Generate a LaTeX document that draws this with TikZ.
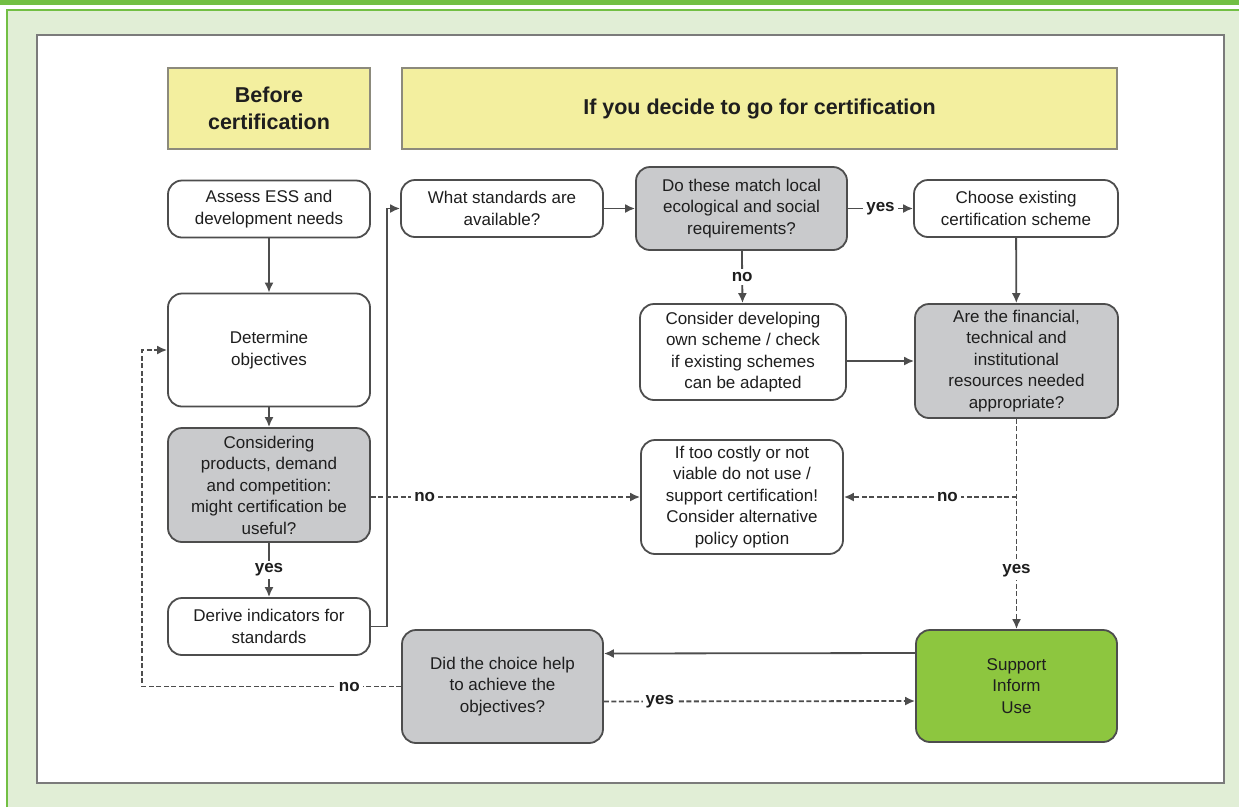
\documentclass[tikz,border=0pt]{standalone}
\usepackage{fontspec}
\setmainfont{Liberation Sans}
\usetikzlibrary{arrows.meta}

\definecolor{topgreen}{HTML}{72BF44}
\definecolor{palegreen}{HTML}{E1EED6}
\definecolor{framegray}{HTML}{7B7B7B}
\definecolor{headyellow}{HTML}{F3EF9F}
\definecolor{headedge}{HTML}{8C8A7C}
\definecolor{querygray}{HTML}{C9CACC}
\definecolor{actgreen}{HTML}{8DC63F}
\definecolor{linecol}{HTML}{4D4D4D}
\definecolor{txtcol}{HTML}{1E1E1E}

\newcommand{\boxtxt}{\fontsize{17}{21.5}\selectfont}
\newcommand{\headtxt}{\fontsize{21.5}{27}\selectfont\bfseries}
\newcommand{\lbltxt}{\fontsize{17}{20}\selectfont\bfseries}

\tikzset{
  box/.style={draw=linecol, line width=1.8pt, rounded corners=14pt, fill=white,
    align=center, font=\boxtxt, text=txtcol, inner sep=2pt},
  query/.style={box, fill=querygray},
  act/.style={box, fill=actgreen},
  head/.style={draw=headedge, line width=2.2pt, fill=headyellow, align=center,
    font=\headtxt, text=txtcol},
  flow/.style={draw=linecol, line width=1.8pt, -{Latex[length=10pt,width=9pt]}},
  alt/.style={flow, dash pattern=on 5pt off 2.5pt},
  lbl/.style={fill=white, font=\lbltxt, text=txtcol, inner sep=3pt},
}

\begin{document}
\begin{tikzpicture}[x=1pt, y=-1pt]
  \useasboundingbox (0,0) rectangle (1239,807);
  % frame
  \fill[topgreen] (0,0) rectangle (1239,5);
  \fill[palegreen] (7,10) rectangle (1239,807);
  \draw[topgreen, line width=1.5pt] (7,807) -- (7,10) -- (1239,10);
  \draw[framegray, line width=1.8pt, fill=white] (37,35) rectangle (1224,783);

  % headers
  \node[head, minimum width=202pt, minimum height=81pt] (before) at (269,108.5)
    {Before\\certification};
  \node[head, minimum width=715pt, minimum height=81pt] (decide) at (759.5,108.5)
    {If you decide to go for certification};

  % left column
  \node[box, minimum width=202pt, minimum height=57pt] (assess) at (269,209)
    {Assess ESS and\\development needs};
  \node[box, minimum width=202pt, minimum height=113pt] (objectives) at (269,350)
    {Determine\\objectives};
  \node[query, minimum width=202pt, minimum height=114pt] (useful) at (269,485)
    {Considering\\products, demand\\and competition:\\might certification be\\useful?};
  \node[box, minimum width=202pt, minimum height=57pt] (indicators) at (269,626.5)
    {Derive indicators for\\standards};

  % middle and right
  \node[box, minimum width=202pt, minimum height=57pt] (standards) at (502,208.5)
    {What standards are\\available?};
  \node[query, minimum width=211pt, minimum height=83pt] (match) at (741.5,208.5)
    {Do these match local\\ecological and social\\requirements?};
  \node[box, minimum width=206pt, minimum height=96pt] (ownscheme) at (743,352)
    {Consider developing\\own scheme / check\\if existing schemes\\can be adapted};
  \node[box, minimum width=204pt, minimum height=57pt] (existing) at (1016,208.5)
    {Choose existing\\certification scheme};
  \node[query, minimum width=203pt, minimum height=114pt] (resources) at (1016.5,361)
    {Are the financial,\\technical and\\institutional\\resources needed\\appropriate?};
  \node[box, minimum width=202pt, minimum height=114pt] (costly) at (742,497)
    {If too costly or not\\viable do not use /\\support certification!\\Consider alternative\\policy option};
  \node[query, minimum width=201pt, minimum height=113pt] (helped) at (502.5,686.5)
    {Did the choice help\\to achieve the\\objectives?};
  \node[act, minimum width=201pt, minimum height=112pt] (support) at (1016.5,686)
    {Support\\Inform\\Use};

  % solid connectors
  \draw[flow] (assess) -- (objectives);
  \draw[flow] (objectives) -- (useful);
  \draw[flow] (useful) -- node[lbl] {yes} (indicators);
  \draw[flow] (indicators.east) -- ++(16,0) |- (standards.west);
  \draw[flow] (standards) -- (match);
  \draw[flow] (match) -- node[lbl] {yes} (existing);
  \draw[flow] (match) -- node[lbl] {no} (ownscheme);
  \draw[flow] (ownscheme.east |- resources.west) -- (resources.west);
  \draw[flow] (existing) -- (resources);
  \draw[flow] ([yshift=33pt]support.west) -- ([yshift=33pt]helped.east);

  % dashed connectors
  \coordinate (split) at (resources.south |- costly.east);
  \draw[alt] (resources.south) -- node[lbl, pos=0.72] {yes} (support.north);
  \draw[alt] (split) -- node[lbl, pos=0.4] {no} (costly.east);
  \draw[alt] (useful.east |- costly.west) -- node[lbl, pos=0.2] {no} (costly.west);
  \draw[alt] ([yshift=-15pt]helped.east) -- node[lbl, pos=0.18] {yes} ([yshift=-15pt]support.west);
  \draw[alt] (helped.west) -- node[lbl, pos=0.2] {no} ++(-259,0) |- (objectives.west);
\end{tikzpicture}
\end{document}
